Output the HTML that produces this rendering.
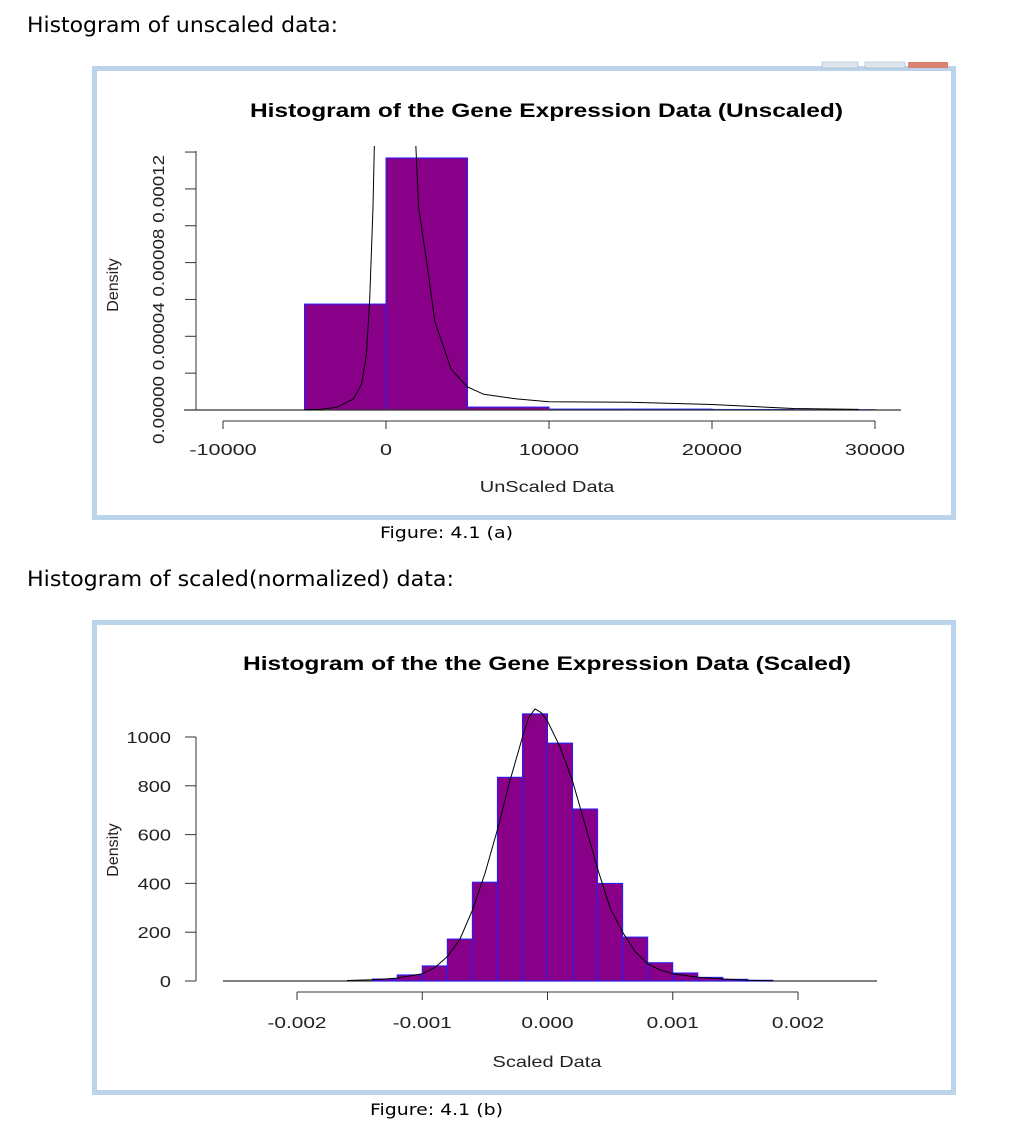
<!DOCTYPE html>
<html><head><meta charset="utf-8"><style>
html,body{margin:0;padding:0;background:#fff;width:1030px;height:1131px;overflow:hidden}
svg{display:block}
.pt{font-family:"DejaVu Sans",Verdana,sans-serif;font-size:21px;fill:#000}
.cap{font-family:"DejaVu Sans",Verdana,sans-serif;font-size:16px;fill:#000}
.tt{font-family:"Liberation Sans",Arial,sans-serif;font-size:19px;font-weight:bold;fill:#000}
.tk{font-family:"Liberation Sans",Arial,sans-serif;font-size:16px;fill:#222}
.lab{font-family:"Liberation Sans",Arial,sans-serif;font-size:16px;fill:#222}
</style></head><body>
<svg id="pg" width="1030" height="1131" xmlns="http://www.w3.org/2000/svg">
<text class="pt" x="27" y="32" textLength="311" lengthAdjust="spacingAndGlyphs">Histogram of unscaled data:</text>
<rect x="94.5" y="68.5" width="859" height="449" fill="#fff" stroke="#bcd3ec" stroke-width="5"/>
<rect x="822" y="62" width="36" height="6" fill="#dde6f0" stroke="#9aa" stroke-width="0.5"/>
<rect x="865" y="62" width="40" height="6" fill="#dde6f0" stroke="#9aa" stroke-width="0.5"/>
<rect x="908" y="62" width="40" height="6" fill="#d9826f"/>
<text class="tt" x="250" y="117" textLength="593" lengthAdjust="spacingAndGlyphs">Histogram of the Gene Expression Data (Unscaled)</text>
<g id="ca"></g>
<text class="cap" x="380" y="538" textLength="133" lengthAdjust="spacingAndGlyphs">Figure: 4.1 (a)</text>

<text class="pt" x="27" y="586" textLength="427" lengthAdjust="spacingAndGlyphs">Histogram of scaled(normalized) data:</text>
<rect x="94.5" y="622.5" width="859" height="470" fill="#fff" stroke="#bcd3ec" stroke-width="5"/>
<text class="tt" x="243" y="670" textLength="608" lengthAdjust="spacingAndGlyphs">Histogram of the the Gene Expression Data (Scaled)</text>
<g id="cb"></g>
<text class="cap" x="370" y="1115" textLength="133" lengthAdjust="spacingAndGlyphs">Figure: 4.1 (b)</text>
</svg>
<script>
// ---- Chart A data ----
const aBinStarts = [-5000, 0, 5000, 10000, 15000, 20000, 25000];
const aBinWidth = 5000;
const aDensity = [0.0000575, 0.0001368, 0.0000016, 0.0000005, 0.0000005, 0.0000003, 0.0000002];
const aCurveX = [-5000,-4000,-3000,-2000,-1500,-1200,-1000,-800,-700,-600,1600,1800,2000,2500,3000,4000,5000,6000,8000,10000,15000,20000,25000,29000];
const aCurveY = [0.0000001,0.0000003,0.0000015,0.000006,0.000014,0.00003,0.00006,0.00011,0.00015,0.00025,0.00025,0.00015,0.00011,0.00008,0.000048,0.000022,0.0000125,0.0000085,0.000006,0.0000045,0.0000042,0.000003,0.0000008,0.0000003];
const aXTicks = [-10000, 0, 10000, 20000, 30000];
const aYTicks = [0, 0.00002, 0.00004, 0.00006, 0.00008, 0.0001, 0.00012, 0.00014];
const aYLabels = ["0.00000","","0.00004","","0.00008","","0.00012",""];
// ---- Chart B data ----
const bBinStarts = [-0.0014,-0.0012,-0.001,-0.0008,-0.0006,-0.0004,-0.0002,0,0.0002,0.0004,0.0006,0.0008,0.001,0.0012,0.0014,0.0016];
const bBinWidth = 0.0002;
const bDensity = [8,25,62,172,405,835,1095,975,705,400,180,75,33,15,7,3];
const bCurveX = [-0.0016,-0.0014,-0.0012,-0.001,-0.0009,-0.0008,-0.0007,-0.0006,-0.0005,-0.0004,-0.0003,-0.0002,-0.00015,-0.0001,-0.00005,0,0.0001,0.0002,0.0003,0.0004,0.0005,0.0006,0.0007,0.0008,0.0009,0.001,0.0012,0.0014,0.0016,0.0018];
const bCurveY = [2,5,12,30,55,100,170,290,440,620,820,1000,1080,1115,1100,1065,960,820,640,460,300,200,120,70,45,30,15,8,3,1];
const bXTicks = [-0.002,-0.001,0,0.001,0.002];
const bXLabels = ["-0.002","-0.001","0.000","0.001","0.002"];
const bYTicks = [0,200,400,600,800,1000];

const NS="http://www.w3.org/2000/svg";
function mk(p,tag,at){const e=document.createElementNS(NS,tag);for(const k in at)e.setAttribute(k,at[k]);p.appendChild(e);return e;}
function widen(el,k){const w=el.getComputedTextLength();el.setAttribute('textLength',(w*k).toFixed(1));el.setAttribute('lengthAdjust','spacingAndGlyphs');}

(function(){
const g=document.getElementById('ca');
const xs=v=>386+(v/10000)*163;
const ys=v=>410-(v/0.00004)*73.7;
aBinStarts.forEach((s,i)=>{
 const r=mk(g,'rect',{x:xs(s),y:ys(aDensity[i]),width:xs(s+aBinWidth)-xs(s),height:410-ys(aDensity[i]),fill:'#880088',stroke:'#2222ff','stroke-width':1});
 
 
});
const bl=mk(g,'line',{x1:184,y1:410,x2:901,y2:410,stroke:'#333','stroke-width':1.2});


let d=aCurveX.map((x,i)=>(i?'L':'M')+xs(x).toFixed(1)+','+ys(aCurveY[i]).toFixed(1)).join(' ');
const cl=mk(g,'clipPath',{id:'clA'});
mk(cl,'rect',{x:150,y:146,width:800,height:300});
const cp=mk(g,'path',{d:d,fill:'none',stroke:'#000','stroke-width':1,'clip-path':'url(#clA)'});


const xa=mk(g,'line',{x1:xs(aXTicks[0]),y1:421,x2:xs(aXTicks[aXTicks.length-1]),y2:421,stroke:'#333'});


aXTicks.forEach(t=>{
 mk(g,'line',{x1:xs(t),y1:421,x2:xs(t),y2:429,stroke:'#333'});
 const tx=mk(g,'text',{x:xs(t),y:455,class:'tk','text-anchor':'middle'});tx.textContent=t;
 
 
 widen(tx,1.35);
});
const ya=mk(g,'line',{x1:196,y1:ys(aYTicks[0]),x2:196,y2:151,stroke:'#333'});


aYTicks.forEach((t,i)=>{
 const y=ys(t); if(y<150) {mk(g,'line',{x1:185,y1:151,x2:196,y2:151,stroke:'#333'});return;}
 mk(g,'line',{x1:185,y1:y,x2:196,y2:y,stroke:'#333'});
 if(aYLabels[i]){const tx=mk(g,'text',{x:164,y:y,class:'tk','text-anchor':'middle',transform:'rotate(-90 164 '+y+')',textLength:68,lengthAdjust:'spacingAndGlyphs'});tx.textContent=aYLabels[i];
 
 }
});
const xl=mk(g,'text',{x:547,y:492,class:'lab','text-anchor':'middle'});xl.textContent='UnScaled Data';


widen(xl,1.25);
const yl=mk(g,'text',{x:118,y:285,class:'lab','text-anchor':'middle',transform:'rotate(-90 118 285)'});yl.textContent='Density';


})();

(function(){
const g=document.getElementById('cb');
const xs=v=>547.5+(v/0.001)*125.25;
const ys=v=>981-(v/1000)*244;
const bl=mk(g,'line',{x1:223,y1:981,x2:877,y2:981,stroke:'#333','stroke-width':1.2});


bBinStarts.forEach((s,i)=>{
 const r=mk(g,'rect',{x:xs(s),y:ys(bDensity[i]),width:xs(s+bBinWidth)-xs(s),height:981-ys(bDensity[i]),fill:'#880088',stroke:'#2222ff','stroke-width':1});
 
 
});
let d=bCurveX.map((x,i)=>(i?'L':'M')+xs(x).toFixed(1)+','+ys(bCurveY[i]).toFixed(1)).join(' ');
const cp=mk(g,'path',{d:d,fill:'none',stroke:'#000','stroke-width':1,'stroke-linejoin':'round'});


const xa=mk(g,'line',{x1:xs(bXTicks[0]),y1:992,x2:xs(bXTicks[bXTicks.length-1]),y2:992,stroke:'#333'});


bXTicks.forEach((t,i)=>{
 mk(g,'line',{x1:xs(t),y1:992,x2:xs(t),y2:1000,stroke:'#333'});
 const tx=mk(g,'text',{x:xs(t),y:1028,class:'tk','text-anchor':'middle'});tx.textContent=bXLabels[i];
 
 
 widen(tx,1.3);
});
const ya=mk(g,'line',{x1:196,y1:ys(0),x2:196,y2:ys(1000),stroke:'#333'});


bYTicks.forEach(t=>{
 const y=ys(t);
 mk(g,'line',{x1:185,y1:y,x2:196,y2:y,stroke:'#333'});
 const tx=mk(g,'text',{x:171,y:y+6,class:'tk','text-anchor':'end'});tx.textContent=t;
 
 
 widen(tx,1.25);
});
const xl=mk(g,'text',{x:547,y:1067,class:'lab','text-anchor':'middle'});xl.textContent='Scaled Data';


widen(xl,1.25);
const yl=mk(g,'text',{x:118,y:850,class:'lab','text-anchor':'middle',transform:'rotate(-90 118 850)'});yl.textContent='Density';


})();
</script>
</body></html>
